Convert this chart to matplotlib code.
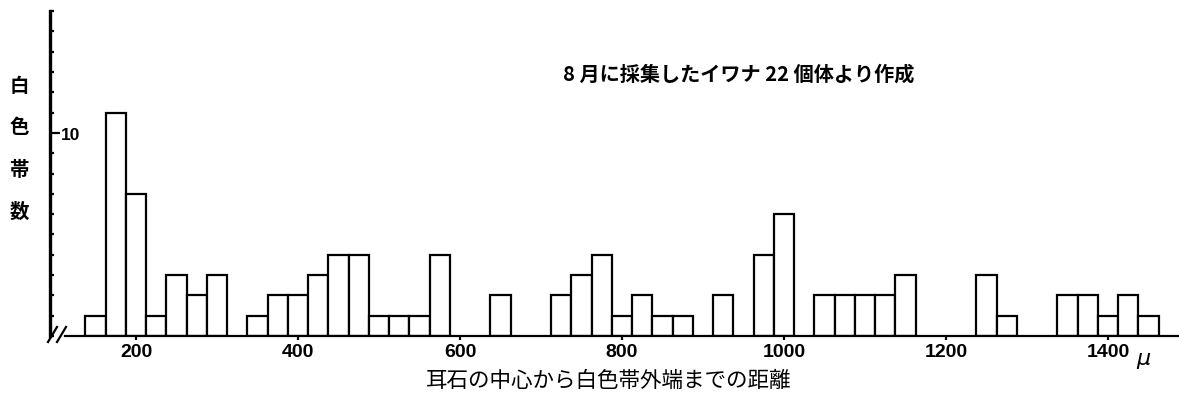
import matplotlib.pyplot as plt
from matplotlib.lines import Line2D
from matplotlib.ticker import MultipleLocator, FixedLocator

# bin centres (μ) and number of white bands in each 25 μ bin
centers = [150, 175, 200, 225, 250, 275, 300,
           350, 375, 400, 425, 450, 475, 500, 525, 550, 575,
           650,
           725, 750, 775, 800, 825, 850, 875,
           925,
           975, 1000,
           1050, 1075, 1100, 1125, 1150,
           1250, 1275,
           1350, 1375, 1400, 1425, 1450]
counts = [1, 11, 7, 1, 3, 2, 3,
          1, 2, 2, 3, 4, 4, 1, 1, 1, 4,
          2,
          2, 3, 4, 1, 2, 1, 1,
          2,
          4, 6,
          2, 2, 2, 2, 3,
          3, 1,
          2, 2, 1, 2, 1]
bin_width = 25
xticks = [200, 400, 600, 800, 1000, 1200, 1400]

ylabel = "白色帯数"
xlabel = "耳石の中心から白色帯外端までの距離"
note = "8 月に採集したイワナ 22 個体より作成"

W, H = 1179, 406
jp = ["Noto Sans CJK JP", "DejaVu Sans"]
num_font = ["Liberation Sans Narrow", "Liberation Sans", "DejaVu Sans"]

fig = plt.figure(figsize=(W / 100, H / 100), dpi=100)
ax = fig.add_axes([50 / W, 69 / H, (W - 50) / W, 325 / H])

ax.bar(centers, counts, width=bin_width, align="center",
       facecolor="white", edgecolor="black", linewidth=1.6)

ax.set_xlim(93.8, 1487.7)
ax.set_ylim(0, 16)

for s in ["top", "right"]:
    ax.spines[s].set_visible(False)
ax.spines["left"].set_linewidth(2.4)
ax.spines["bottom"].set_linewidth(1.6)
ax.spines["bottom"].set_bounds(112, 1487.7)

ax.xaxis.set_major_locator(FixedLocator(xticks))
ax.tick_params(axis="x", direction="out", length=3, width=1.6, pad=2)
for lbl in ax.get_xticklabels():
    lbl.set_fontfamily(num_font)
    lbl.set_fontsize(14)
    lbl.set_fontweight("bold")

ax.yaxis.set_major_locator(FixedLocator([10]))
ax.yaxis.set_minor_locator(MultipleLocator(1))
ax.set_yticklabels(["10"])
ax.tick_params(axis="y", which="major", direction="in", length=7, width=1.6, pad=-8)
ax.tick_params(axis="y", which="minor", direction="in", length=3, width=1.6)
for lbl in ax.get_yticklabels():
    lbl.set_horizontalalignment("left")
    lbl.set_fontfamily(num_font)
    lbl.set_fontsize(12.5)
    lbl.set_fontweight("bold")

# axis break marks at the origin
for x0 in (48, 57):
    fig.add_artist(Line2D([x0 / W, (x0 + 9) / W], [(H - 343) / H, (H - 328) / H],
                          transform=fig.transFigure, color="black", linewidth=1.6))

# vertical y label, one character per line
for i, ch in enumerate(ylabel):
    fig.text(19 / W, (H - (86 + i * 42)) / H, ch, family=jp, fontsize=14,
             fontweight="bold", ha="center", va="center")

fig.text(609 / W, (H - 381) / H, xlabel, family=jp, fontsize=15.5,
         ha="center", va="center")
fig.text(739 / W, (H - 74) / H, note, family=jp, fontsize=14.5,
         fontweight="bold", ha="center", va="center")
fig.text(1144 / W, (H - 361) / H, r"$\mu$", fontsize=16, ha="center", va="center")

fig.savefig("out.png", dpi=100)
